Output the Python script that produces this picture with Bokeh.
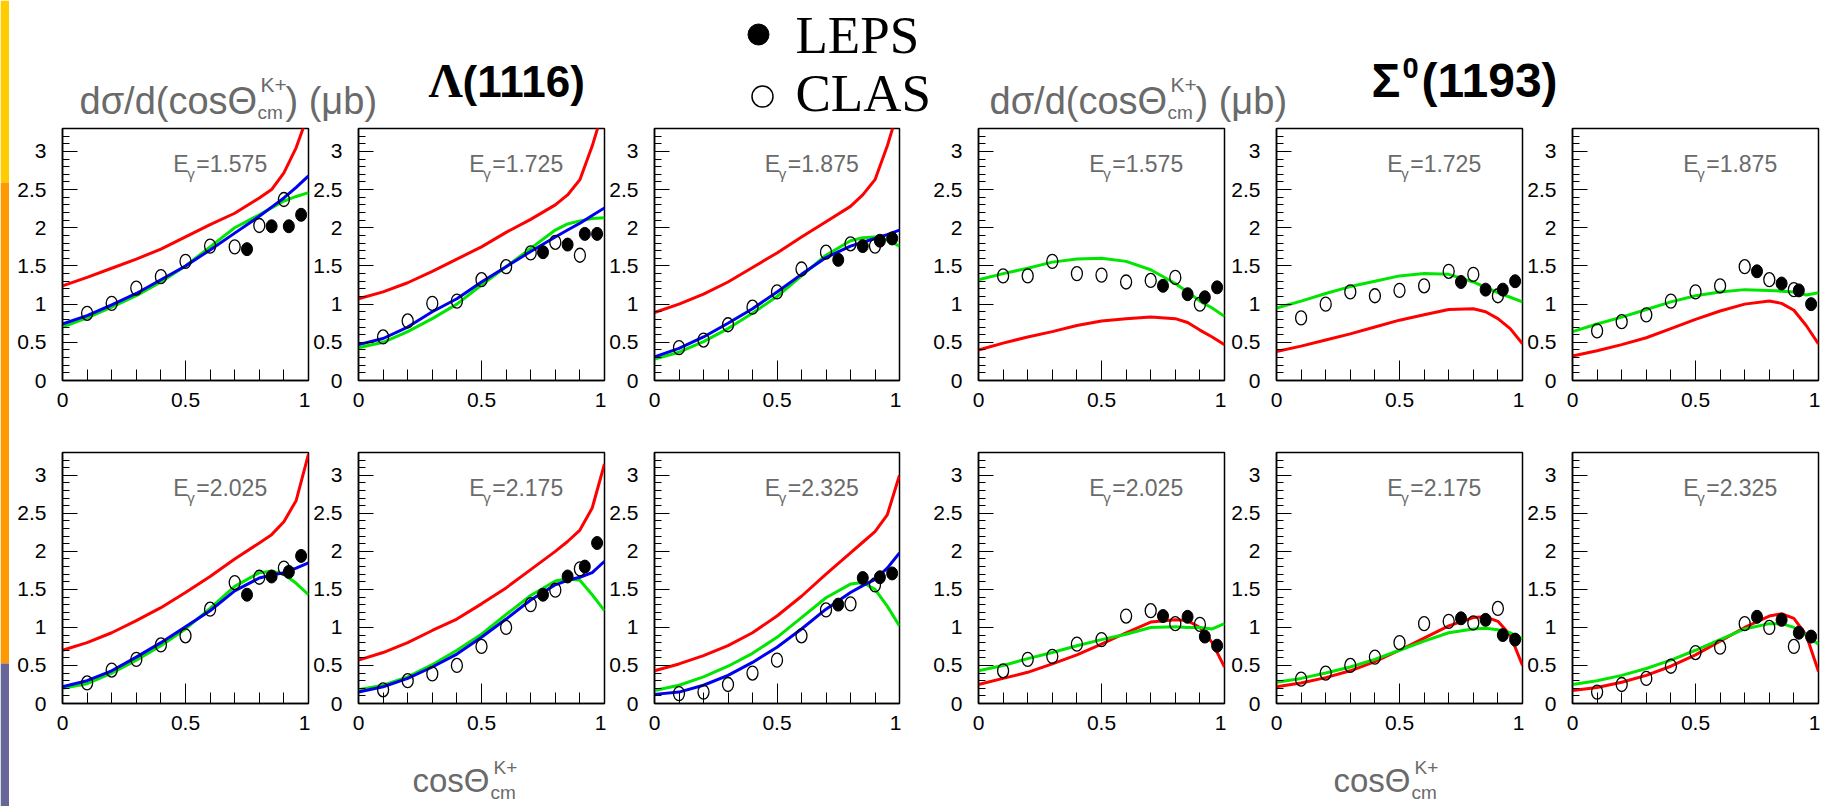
from bokeh.plotting import figure
from bokeh.layouts import row, column
from bokeh.models import Range1d, FixedTicker, CustomJSTickFormatter
from bokeh.core.properties import value
from bokeh.embed import file_html
from bokeh.resources import INLINE

# ------------------------------------------------------------------ data
clas_x = [0.1, 0.2, 0.3, 0.4, 0.5, 0.6, 0.7, 0.8, 0.9]
leps_x = [0.75, 0.85, 0.92, 0.97]
curve_x = [0.0, 0.1, 0.2, 0.3, 0.4, 0.5, 0.6, 0.7, 0.8, 0.85, 0.9, 0.95, 1.0]
energies = ["1.575", "1.725", "1.875", "2.025", "2.175", "2.325"]

# Lambda(1116)
lam_clas_1575 = [0.88, 1.01, 1.21, 1.36, 1.56, 1.76, 1.75, 2.03, 2.37]
lam_leps_1575 = [1.72, 2.02, 2.02, 2.17]
lam_red_1575 = [1.24, 1.35, 1.47, 1.59, 1.72, 1.88, 2.04, 2.19, 2.39, 2.50, 2.72, 3.05, 3.50]
lam_green_1575 = [0.70, 0.82, 0.96, 1.11, 1.29, 1.50, 1.75, 2.00, 2.17, 2.26, 2.35, 2.41, 2.46]
lam_blue_1575 = [0.74, 0.85, 0.99, 1.14, 1.32, 1.50, 1.71, 1.93, 2.15, 2.27, 2.39, 2.53, 2.68]

lam_clas_1725 = [0.57, 0.78, 1.01, 1.04, 1.32, 1.49, 1.67, 1.81, 1.64]
lam_leps_1725 = [1.68, 1.78, 1.92, 1.92]
lam_red_1725 = [1.07, 1.16, 1.28, 1.43, 1.59, 1.75, 1.94, 2.11, 2.30, 2.43, 2.63, 3.07, 3.60]
lam_green_1725 = [0.43, 0.50, 0.64, 0.81, 1.00, 1.25, 1.49, 1.73, 1.97, 2.05, 2.09, 2.12, 2.13]
lam_blue_1725 = [0.47, 0.55, 0.70, 0.90, 1.07, 1.29, 1.49, 1.69, 1.88, 1.97, 2.06, 2.16, 2.26]

lam_clas_1875 = [0.43, 0.53, 0.73, 0.96, 1.16, 1.46, 1.68, 1.79, 1.76]
lam_leps_1875 = [1.58, 1.76, 1.83, 1.86]
lam_red_1875 = [0.89, 1.00, 1.13, 1.29, 1.48, 1.67, 1.88, 2.08, 2.28, 2.43, 2.63, 3.07, 3.60]
lam_green_1875 = [0.28, 0.37, 0.51, 0.68, 0.88, 1.10, 1.37, 1.64, 1.83, 1.87, 1.88, 1.84, 1.76]
lam_blue_1875 = [0.31, 0.42, 0.57, 0.75, 0.94, 1.16, 1.39, 1.61, 1.76, 1.81, 1.86, 1.91, 1.97]

lam_clas_2025 = [0.27, 0.44, 0.58, 0.77, 0.89, 1.24, 1.59, 1.66, 1.78]
lam_leps_2025 = [1.43, 1.67, 1.73, 1.94]
lam_red_2025 = [0.70, 0.80, 0.93, 1.09, 1.26, 1.46, 1.67, 1.90, 2.11, 2.22, 2.39, 2.67, 3.28]
lam_green_2025 = [0.20, 0.26, 0.40, 0.57, 0.76, 0.98, 1.25, 1.54, 1.72, 1.74, 1.70, 1.58, 1.43]
lam_blue_2025 = [0.22, 0.30, 0.43, 0.61, 0.80, 1.01, 1.22, 1.48, 1.65, 1.69, 1.72, 1.78, 1.85]

lam_clas_2175 = [0.18, 0.30, 0.39, 0.50, 0.75, 1.00, 1.30, 1.49, 1.77]
lam_leps_2175 = [1.43, 1.67, 1.80, 2.11]
lam_red_2175 = [0.57, 0.67, 0.80, 0.96, 1.11, 1.31, 1.52, 1.76, 2.00, 2.13, 2.28, 2.57, 3.15]
lam_green_2175 = [0.18, 0.24, 0.35, 0.51, 0.70, 0.91, 1.17, 1.42, 1.61, 1.64, 1.62, 1.43, 1.22]
lam_blue_2175 = [0.15, 0.22, 0.33, 0.48, 0.65, 0.87, 1.11, 1.36, 1.56, 1.62, 1.66, 1.72, 1.87]

lam_clas_2325 = [0.13, 0.15, 0.25, 0.40, 0.57, 0.89, 1.23, 1.31, 1.56]
lam_leps_2325 = [1.30, 1.65, 1.66, 1.71]
lam_red_2325 = [0.43, 0.52, 0.63, 0.76, 0.93, 1.15, 1.41, 1.70, 1.98, 2.12, 2.26, 2.48, 3.00]
lam_green_2325 = [0.17, 0.24, 0.35, 0.49, 0.66, 0.87, 1.13, 1.39, 1.57, 1.59, 1.50, 1.28, 1.02]
lam_blue_2325 = [0.12, 0.15, 0.24, 0.37, 0.54, 0.74, 0.98, 1.24, 1.46, 1.55, 1.63, 1.78, 1.98]

# Sigma0(1193)
sig_clas_1575 = [1.37, 1.37, 1.56, 1.40, 1.38, 1.29, 1.31, 1.35, 1.00]
sig_leps_1575 = [1.24, 1.13, 1.09, 1.22]
sig_red_1575 = [0.40, 0.49, 0.57, 0.64, 0.72, 0.78, 0.81, 0.83, 0.81, 0.76, 0.66, 0.57, 0.47]
sig_green_1575 = [1.32, 1.40, 1.47, 1.55, 1.59, 1.60, 1.56, 1.45, 1.27, 1.16, 1.04, 0.95, 0.84]

sig_clas_1725 = [0.82, 1.00, 1.16, 1.11, 1.18, 1.24, 1.43, 1.39, 1.11]
sig_leps_1725 = [1.29, 1.19, 1.19, 1.30]
sig_red_1725 = [0.38, 0.45, 0.53, 0.61, 0.70, 0.79, 0.86, 0.93, 0.94, 0.90, 0.81, 0.68, 0.48]
sig_green_1725 = [0.95, 1.04, 1.14, 1.23, 1.30, 1.37, 1.40, 1.39, 1.29, 1.22, 1.15, 1.09, 1.03]

sig_clas_1875 = [0.65, 0.77, 0.86, 1.04, 1.16, 1.24, 1.49, 1.32, 1.19]
sig_leps_1875 = [1.43, 1.27, 1.18, 1.00]
sig_red_1875 = [0.32, 0.39, 0.47, 0.56, 0.68, 0.80, 0.91, 1.00, 1.04, 1.01, 0.92, 0.72, 0.48]
sig_green_1875 = [0.64, 0.74, 0.83, 0.93, 1.03, 1.11, 1.16, 1.19, 1.18, 1.17, 1.16, 1.12, 1.15]

sig_clas_2025 = [0.43, 0.58, 0.62, 0.78, 0.84, 1.15, 1.22, 1.05, 1.04]
sig_leps_2025 = [1.15, 1.14, 0.88, 0.76]
sig_red_2025 = [0.25, 0.33, 0.41, 0.52, 0.64, 0.78, 0.93, 1.07, 1.10, 1.09, 1.00, 0.80, 0.48]
sig_green_2025 = [0.43, 0.50, 0.59, 0.67, 0.76, 0.84, 0.91, 1.00, 1.01, 1.00, 1.00, 0.98, 1.05]

sig_clas_2175 = [0.32, 0.40, 0.50, 0.61, 0.80, 1.05, 1.08, 1.06, 1.25]
sig_leps_2175 = [1.12, 1.10, 0.90, 0.84]
sig_red_2175 = [0.22, 0.27, 0.34, 0.43, 0.55, 0.70, 0.86, 1.02, 1.13, 1.14, 1.08, 0.90, 0.50]
sig_green_2175 = [0.28, 0.33, 0.40, 0.48, 0.58, 0.70, 0.82, 0.93, 0.98, 0.99, 0.97, 0.93, 0.85]

sig_clas_2325 = [0.15, 0.25, 0.33, 0.49, 0.67, 0.74, 1.05, 1.00, 0.75]
sig_leps_2325 = [1.14, 1.10, 0.93, 0.88]
sig_red_2325 = [0.17, 0.21, 0.28, 0.37, 0.49, 0.64, 0.82, 1.00, 1.15, 1.18, 1.12, 0.90, 0.42]
sig_green_2325 = [0.25, 0.30, 0.37, 0.46, 0.57, 0.70, 0.84, 0.98, 1.05, 1.05, 1.00, 0.90, 0.78]

y_major = [0, 0.5, 1, 1.5, 2, 2.5, 3]
x_major = [0, 0.5, 1]

# ------------------------------------------------------------------ style
RED, GREEN, BLUE = "#ff0000", "#00e600", "#0000f0"
LABEL_FONT = "Liberation Sans"
TITLE_GRAY = "#6a6a6a"
FRAME_W = 246
BASE_SHIFT = 0.4   # baseline correction (fraction of font size)

fmt = CustomJSTickFormatter(code="return String(tick);")


def make_panel(left, top, frame_h, bottom, energy, clas, leps, red, green, blue):
    p = figure(width=left + FRAME_W + 2, height=top + frame_h + bottom,
               x_range=Range1d(0, 1), y_range=Range1d(0, 3.3),
               output_backend="svg", toolbar_location=None,
               min_border_left=left, min_border_right=2,
               min_border_top=top, min_border_bottom=bottom)
    p.grid.visible = False
    p.outline_line_color = "black"
    p.outline_line_width = 1.5
    p.background_fill_color = "white"
    p.border_fill_color = "white"

    xa = p.xaxis[0]
    xa.ticker = FixedTicker(ticks=x_major,
                            minor_ticks=[0.1, 0.2, 0.3, 0.4, 0.6, 0.7, 0.8, 0.9])
    xa.formatter = fmt
    xa.major_tick_in, xa.major_tick_out = 20, 0
    xa.minor_tick_in, xa.minor_tick_out = 11, 0
    xa.major_label_standoff = 12
    ya = p.yaxis[0]
    ya.ticker = FixedTicker(ticks=y_major,
                            minor_ticks=[i / 10 for i in range(34) if i % 5])
    ya.formatter = fmt
    ya.major_tick_in, ya.major_tick_out = 15, 0
    ya.minor_tick_in, ya.minor_tick_out = 7, 0
    ya.major_label_standoff = 16
    for ax in (xa, ya):
        ax.axis_line_color = "black"
        ax.axis_line_width = 1.5
        ax.major_tick_line_color = "black"
        ax.minor_tick_line_color = "black"
        ax.major_tick_line_width = 1
        ax.minor_tick_line_width = 1
        ax.major_label_text_font = LABEL_FONT
        ax.major_label_text_font_size = "21px"
        ax.major_label_text_color = "black"

    p.line(curve_x, red, line_color=RED, line_width=3)
    p.line(curve_x, green, line_color=GREEN, line_width=3)
    if blue is not None:
        p.line(curve_x, blue, line_color=BLUE, line_width=3)

    p.ellipse(x=clas_x, y=clas, width=11, height=14,
              width_units="screen", height_units="screen",
              fill_color=None, line_color="black", line_width=1.3)
    p.ellipse(x=leps_x, y=leps, width=11, height=13,
              width_units="screen", height_units="screen",
              fill_color="black", line_color="black")

    ytxt, fs, fs_sub = 2.71, 23, 15
    p.text(x=[0.45], y=[ytxt], text=["E"], y_offset=-BASE_SHIFT * fs,
           text_font=value(LABEL_FONT), text_font_size=f"{fs}px",
           text_color=TITLE_GRAY, text_baseline="alphabetic")
    p.text(x=[0.45], y=[ytxt], text=["γ"], x_offset=14, y_offset=6 - BASE_SHIFT * fs_sub,
           text_font=value(LABEL_FONT), text_font_size=f"{fs_sub}px",
           text_color=TITLE_GRAY, text_baseline="alphabetic")
    p.text(x=[0.45], y=[ytxt], text=["=" + energy], x_offset=23, y_offset=-BASE_SHIFT * fs,
           text_font=value(LABEL_FONT), text_font_size=f"{fs}px",
           text_color=TITLE_GRAY, text_baseline="alphabetic")
    return p


lefts = [53, 48, 47, 77, 50, 48]
top_sets = [
    (energies[0], lam_clas_1575, lam_leps_1575, lam_red_1575, lam_green_1575, lam_blue_1575),
    (energies[1], lam_clas_1725, lam_leps_1725, lam_red_1725, lam_green_1725, lam_blue_1725),
    (energies[2], lam_clas_1875, lam_leps_1875, lam_red_1875, lam_green_1875, lam_blue_1875),
    (energies[0], sig_clas_1575, sig_leps_1575, sig_red_1575, sig_green_1575, None),
    (energies[1], sig_clas_1725, sig_leps_1725, sig_red_1725, sig_green_1725, None),
    (energies[2], sig_clas_1875, sig_leps_1875, sig_red_1875, sig_green_1875, None),
]
bot_sets = [
    (energies[3], lam_clas_2025, lam_leps_2025, lam_red_2025, lam_green_2025, lam_blue_2025),
    (energies[4], lam_clas_2175, lam_leps_2175, lam_red_2175, lam_green_2175, lam_blue_2175),
    (energies[5], lam_clas_2325, lam_leps_2325, lam_red_2325, lam_green_2325, lam_blue_2325),
    (energies[3], sig_clas_2025, sig_leps_2025, sig_red_2025, sig_green_2025, None),
    (energies[4], sig_clas_2175, sig_leps_2175, sig_red_2175, sig_green_2175, None),
    (energies[5], sig_clas_2325, sig_leps_2325, sig_red_2325, sig_green_2325, None),
]

row1 = row([make_panel(l, 2, 252, 64, *s) for l, s in zip(lefts, top_sets)], spacing=0)
row2 = row([make_panel(l, 8, 251, 37, *s) for l, s in zip(lefts, bot_sets)], spacing=0)


def blank(width, height, x0, x1, y_top, y_bottom):
    f = figure(width=width, height=height, x_range=Range1d(x0, x1),
               y_range=Range1d(y_bottom, y_top), output_backend="svg",
               toolbar_location=None, min_border=0)
    f.axis.visible = False
    f.grid.visible = False
    f.outline_line_color = None
    f.background_fill_color = "white"
    f.border_fill_color = "white"
    return f


def txt(f, x, y_base, s, size, color="black", font="Liberation Sans", style="normal"):
    f.text(x=[x], y=[y_base - BASE_SHIFT * size], text=[s], text_font=value(font),
           text_font_size=f"{size}px", text_color=color, text_font_style=style,
           text_baseline="alphabetic")


# ------------------------------------------------------------------ header
header = blank(1818, 126, 9, 1827, 0, 126)
for x0 in (79, 989):
    txt(header, x0, 116, "dσ/d(cosΘ", 38, TITLE_GRAY)
    txt(header, x0 + 178, 120, "cm", 19, TITLE_GRAY)
    txt(header, x0 + 181, 92, "K+", 21, TITLE_GRAY)
    txt(header, x0 + 206, 116, ") (μb)", 38, TITLE_GRAY)
txt(header, 428, 99, "Λ", 48, font="Liberation Serif", style="bold")
txt(header, 462, 99, "(1116)", 44, style="bold")
txt(header, 1371, 99, "Σ", 48, style="bold")
txt(header, 1402, 79, "0", 29, style="bold")
txt(header, 1421, 99, "(1193)", 48, style="bold")
header.scatter(x=[758], y=[34], size=21, marker="circle", fill_color="black", line_color="black")
header.scatter(x=[762], y=[96], size=21, marker="circle", fill_color=None,
               line_color="black", line_width=1.5)
txt(header, 795, 56, "LEPS", 53, font="Liberation Serif")
txt(header, 795, 114, "CLAS", 53, font="Liberation Serif")

# ------------------------------------------------------------------ footer
footer = blank(1818, 66, 9, 1827, 740, 806)
for x0 in (412, 1333):
    txt(footer, x0, 793, "cosΘ", 33, TITLE_GRAY)
    txt(footer, x0 + 78, 800, "cm", 19, TITLE_GRAY)
    txt(footer, x0 + 81, 775, "K+", 19, TITLE_GRAY)

# ------------------------------------------------------------------ left colour strip
strip_tops = [0, 182, 663]
strip_bottoms = [182, 663, 806]
strip_colors = ["#ffcc00", "#ff9900", "#666699"]
strip = blank(9, 806, 0, 9, 0, 806)
strip.quad(left=0, right=9, top=strip_tops, bottom=strip_bottoms,
           fill_color=strip_colors, line_color=None)

layout = row(strip, column(header, row1, row2, footer, spacing=0), spacing=0)

with open("out.html", "w") as fh:
    fh.write(file_html(layout, INLINE))
